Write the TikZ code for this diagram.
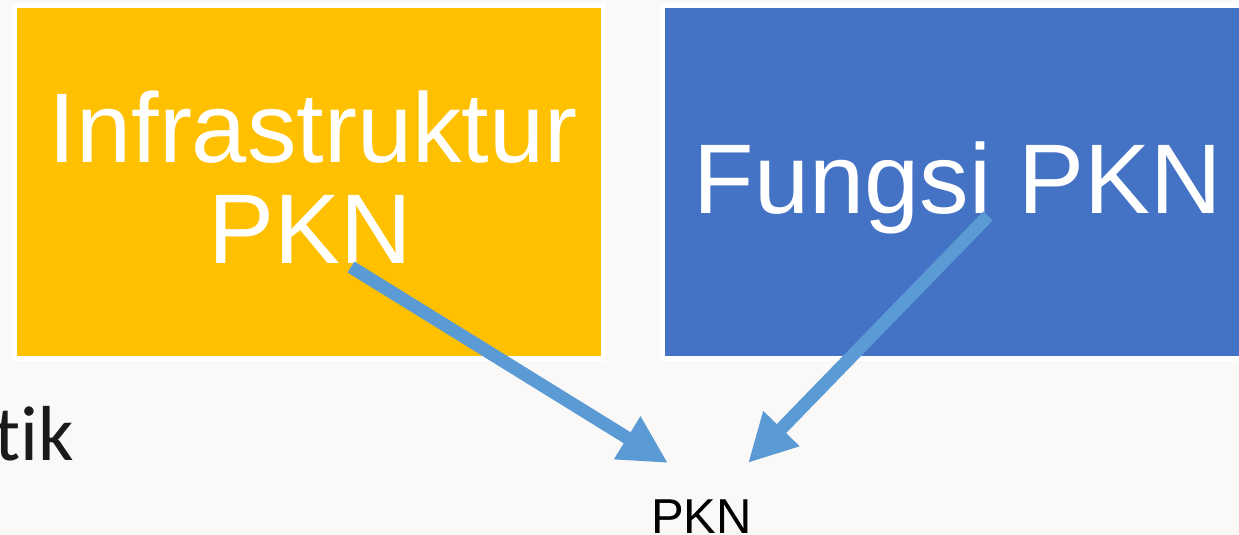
\documentclass[tikz,border=0pt]{standalone}
\usepackage{fontspec}
\setmainfont{Liberation Sans}
\newfontfamily\calfont[Ligatures=NoCommon]{Carlito}
\usetikzlibrary{arrows.meta}
\definecolor{bg}{HTML}{FAF9F8}
\definecolor{gold}{HTML}{FFC000}
\definecolor{steel}{HTML}{4472C4}
\definecolor{arrowblue}{HTML}{5B9BD5}
\definecolor{ink}{HTML}{1A1A1A}
\begin{document}
\begin{tikzpicture}[x=1pt,y=-1pt,
  card/.style={draw=white,line width=5pt,minimum width=589pt,minimum height=353pt,inner sep=0pt,outer sep=0pt},
  bigtext/.style={text=white,font=\fontsize{99}{101}\selectfont,inner sep=0pt,anchor=base},
  flow/.style={arrowblue,line width=13pt,-{Triangle[length=48pt,width=47pt]}}]
\useasboundingbox (0,0) rectangle (1239,535);
\clip (0,0) rectangle (1239,535);
\fill[bg] (0,0) rectangle (1239,535);
\node[card,fill=gold] (infra) at (309,182) {};
\node[card,fill=steel] (fungsi) at (957,182) {};
\node[bigtext] (t1) at (313,162) {Infrastruktur};
\node[bigtext] (t2) at (310,263) {PKN};
\node[bigtext] (t3) at (958,213) {Fungsi PKN};
\node[anchor=base east,font=\calfont\fontsize{78}{80}\selectfont,text=ink,inner sep=0pt] (tik) at (74,460) {tik};
\node[anchor=base,font=\fontsize{49}{51}\selectfont,text=black,inner sep=0pt] (pkn) at (701.5,533) {PKN};
\coordinate (a1s) at (351,267);
\coordinate (a1e) at (668,463);
\coordinate (a2s) at (988,216);
\coordinate (a2e) at (748,463);
\draw[flow] (a1s) -- (a1e);
\draw[flow] (a2s) -- (a2e);
\end{tikzpicture}
\end{document}
